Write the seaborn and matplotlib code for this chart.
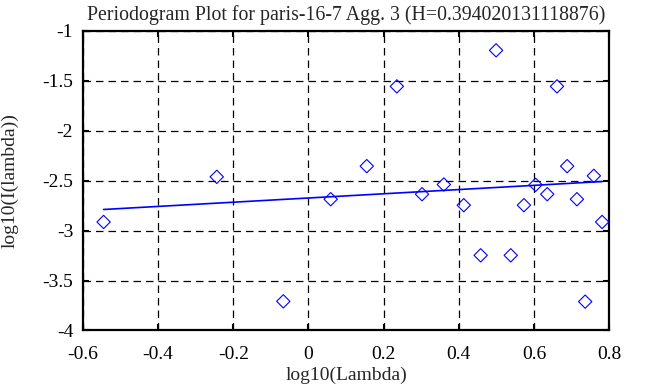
import matplotlib
matplotlib.use("Agg")
import matplotlib.pyplot as plt
import seaborn as sns

# periodogram points
log_lambda = [-0.545, -0.244, -0.067, 0.059, 0.155, 0.235, 0.302, 0.360, 0.413,
              0.458, 0.499, 0.538, 0.573, 0.604, 0.635, 0.661, 0.688, 0.714,
              0.736, 0.759, 0.781]
log_i = [-2.913, -2.461, -3.708, -2.685, -2.354, -1.555, -2.635, -2.538, -2.745,
         -3.247, -1.194, -3.247, -2.745, -2.541, -2.635, -1.555, -2.354, -2.685,
         -3.711, -2.451, -2.913]

# least squares fit line (end points)
fit_x = [-0.545, 0.781]
fit_y = [-2.788, -2.508]

x_ticks = [-0.6, -0.4, -0.2, 0, 0.2, 0.4, 0.6, 0.8]
y_ticks = [-4, -3.5, -3, -2.5, -2, -1.5, -1]

sns.set_style("ticks")
plt.rcParams["font.family"] = ["Liberation Serif", "DejaVu Serif"]
plt.rcParams["axes.unicode_minus"] = False

fig = plt.figure(figsize=(6.53, 3.87), dpi=100)
ax = fig.add_axes([0.127, 0.146, 0.806, 0.774])

sns.scatterplot(x=log_lambda, y=log_i, marker="D", s=46, facecolor="none",
                edgecolor="blue", linewidth=0.8, ax=ax, zorder=3)
sns.lineplot(x=fit_x, y=fit_y, color="blue", lw=1.2, ax=ax, zorder=3)

ax.set_xlim(-0.6, 0.8)
ax.set_ylim(-4, -1)
ax.set_xticks(x_ticks)
ax.set_yticks(y_ticks)
ax.set_xticklabels([f"{v:g}" for v in x_ticks])
ax.set_yticklabels([f"{v:g}" for v in y_ticks])
ax.grid(True, color="black", linestyle=(0, (6, 4)), linewidth=0.9)
ax.tick_params(direction="in", length=4.5, width=1.5, top=True, right=True,
               labelsize=14, colors="black")
ax.tick_params(axis="x", pad=11)
ax.tick_params(axis="y", pad=7)
for sp in ax.spines.values():
    sp.set_visible(True)
    sp.set_linewidth(1.6)
    sp.set_color("black")

ax.set_title("Periodogram Plot for paris-16-7 Agg. 3 (H=0.394020131118876)",
             fontsize=14.3, pad=8)
ax.set_xlabel("log10(Lambda)", fontsize=14, labelpad=3)
ax.set_ylabel("log10(I(lambda))", fontsize=14, labelpad=17)

fig.savefig("out.png", dpi=100)
